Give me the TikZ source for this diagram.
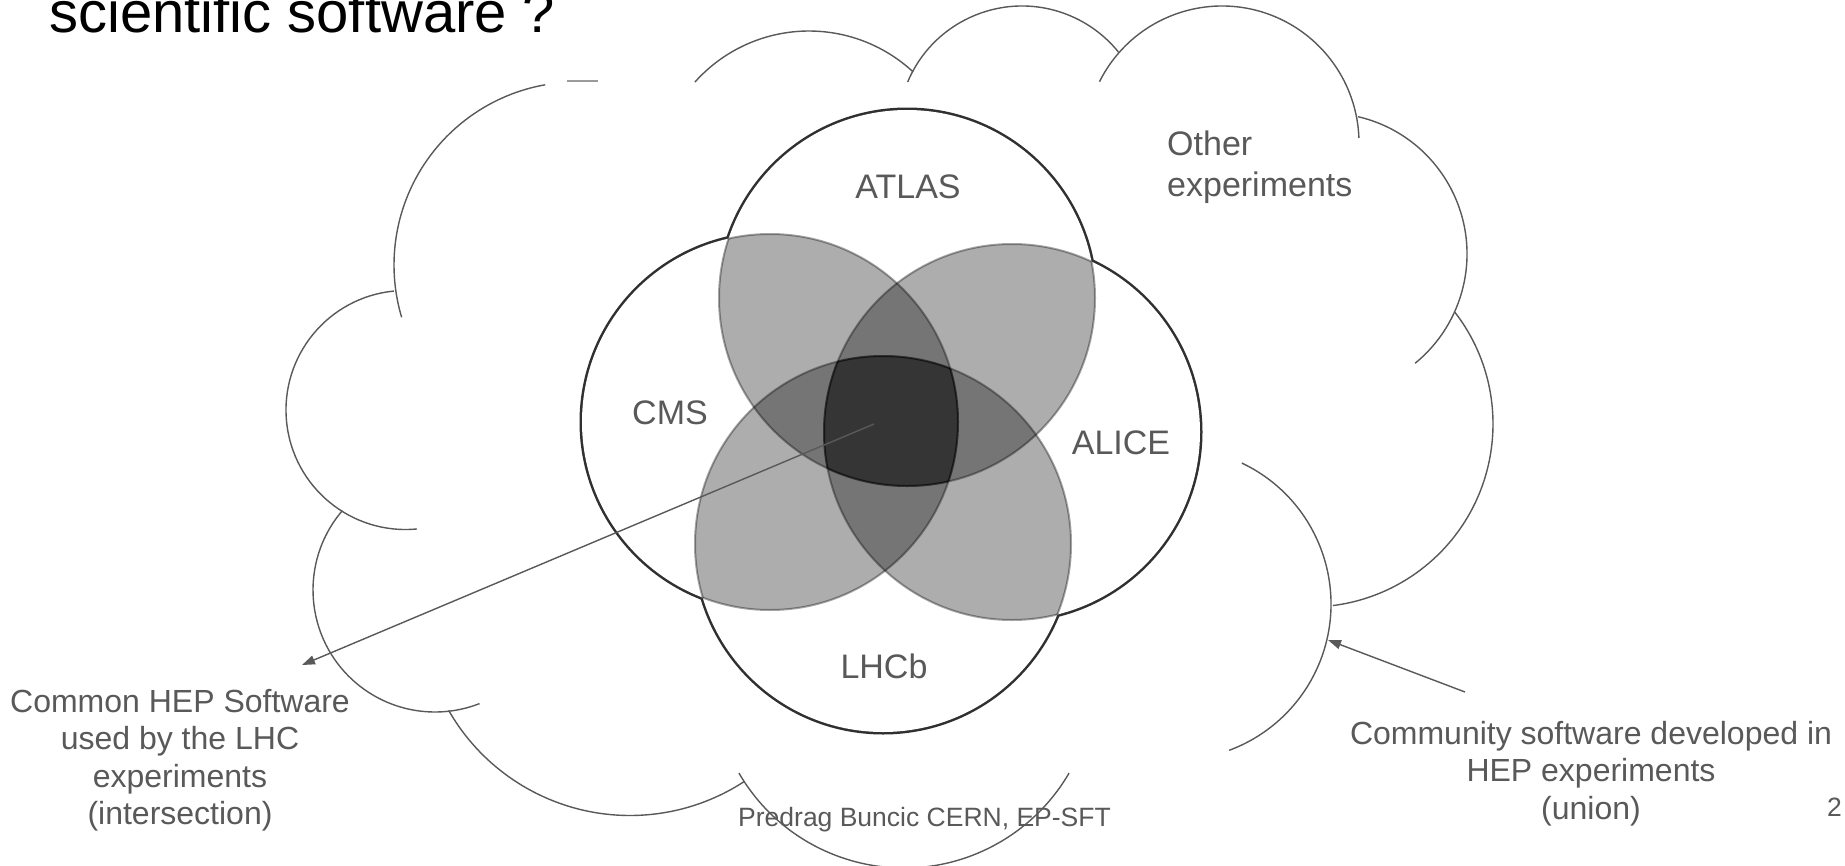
\documentclass[tikz,border=0pt]{standalone}
\usepackage{fontspec}
\setmainfont{Liberation Sans}
\usetikzlibrary{arrows.meta}
\definecolor{slidegray}{HTML}{595959}
\definecolor{ringgray}{HTML}{303030}
\tikzset{
cloud arc/.style={draw=slidegray, line width=1.4pt}, % one bump of the cloud
ring/.style={draw=ringgray, line width=5pt}, % outline of an experiment, inner half is covered by the white fill
lobe/.style={fill=black, fill opacity=0.32}, % overlap of two neighbouring experiments
lobe edge/.style={draw=black, draw opacity=0.35, line width=2pt},
pointer/.style={draw=slidegray, line width=1.4pt, -{Triangle[length=13pt, width=9pt]}},
expt/.style={text=slidegray, inner sep=0pt, anchor=base, font=\fontsize{34}{41}\selectfont},
note/.style={text=slidegray, inner sep=0pt, align=center, font=\fontsize{32}{37.5}\selectfont},
}
\begin{document}
\begin{tikzpicture}[x=1pt, y=-1pt]
\useasboundingbox (0,0) rectangle (1845,865);
\clip (0,0) rectangle (1845,865);
\fill[white] (0,0) rectangle (1845,865);

% title, cut at the top
\node[anchor=base west, inner sep=0pt, font=\fontsize{58}{70}\selectfont] (title) at (49,32) {scientific software ?};

% the cloud
\foreach \cx/\cy/\r/\a/\b in {577/265/183/260/163.4, 405.5/410/119.5/264.4/84.5, 435/590/122/220.6/68.6,
    630/606.5/209/150.2/56.8, 904/677/191/149.8/30.2, 1175/604/156/-64.6/69.7, 1310/424/183/-37.7/82.8,
    1326/254/141/-76.9/50.8, 1222/143/137/206.6/357.9, 1022/130/124/202.8/321, 809/184/153/221.8/312.9}
  \draw[cloud arc] ([shift={(\a:\r)}]\cx,\cy) arc[start angle=\a, end angle=\b, radius=\r];
\draw[cloud arc, draw opacity=0.6] (567,81) -- (598,81);

% LHC experiments
\coordinate (atlasc) at (907,298);
\coordinate (cmsc) at (770,422);
\coordinate (alicec) at (1012,432);
\coordinate (lhcbc) at (883,544);
\foreach \c in {atlasc,cmsc,alicec,lhcbc}
  \draw[ring] (\c) circle[radius=188];
\foreach \c in {atlasc,cmsc,alicec,lhcbc}
  \fill[white] (\c) circle[radius=188];
\foreach \p/\q in {atlasc/cmsc, atlasc/alicec, cmsc/lhcbc, alicec/lhcbc}{
  \begin{scope}
    \clip (\p) circle[radius=188];
    \fill[lobe] (\q) circle[radius=188];
    \draw[lobe edge] (\q) circle[radius=188];
  \end{scope}
  \begin{scope}
    \clip (\q) circle[radius=188];
    \draw[lobe edge] (\p) circle[radius=188];
  \end{scope}
}

\node[expt] (atlas) at (908,198) {ATLAS};
\node[expt] (cms) at (670,424) {CMS};
\node[expt] (alice) at (1121,454) {ALICE};
\node[expt] (lhcb) at (884,678) {LHCb};
\node[expt, anchor=north west, align=left] (other) at (1167,131) {Other\\experiments};

% what the two sets mean
\node[note, anchor=north] (common) at (180,689) {Common HEP Software\\used by the LHC\\experiments\\(intersection)};
\node[note, anchor=north] (community) at (1591,721) {Community software developed in\\HEP experiments\\(union)};

\coordinate (core) at (874,424);
\coordinate (commontip) at (302,665);
\draw[pointer] (core) -- (commontip);
\coordinate (communitytail) at (1465,692);
\coordinate (cloudedge) at (1328,640);
\draw[pointer] (communitytail) -- (cloudedge);

% footer
\node[anchor=base west, inner sep=0pt, text=slidegray, font=\fontsize{26.5}{32}\selectfont] (footer) at (738,826) {Predrag Buncic CERN, EP-SFT};
\node[anchor=base east, inner sep=0pt, text=slidegray, font=\fontsize{26.5}{32}\selectfont] (page) at (1842,816) {2};
\end{tikzpicture}
\end{document}
